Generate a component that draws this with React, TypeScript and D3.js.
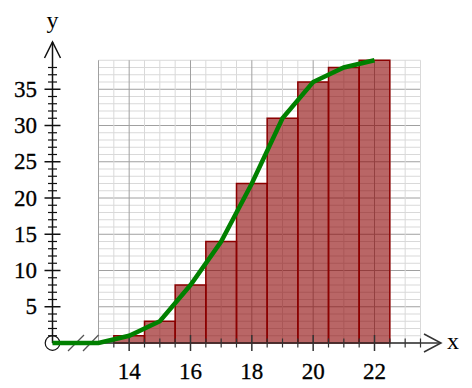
import React from "react";
import * as d3 from "d3";

const binCenters = [14, 15, 16, 17, 18, 19, 20, 21, 22];
const binCounts = [1, 3, 8, 14, 22, 31, 36, 38, 39];
const lineX = [11.5, 13, 14, 15, 16, 17, 18, 19, 20, 21, 22];
const lineY = [0, 0, 1, 3, 8, 14, 22, 31, 36, 38, 39];
const xTickLabels = [14, 16, 18, 20, 22];
const yTickLabels = [5, 10, 15, 20, 25, 30, 35];

const W = 472;
const H = 388;

export default function App() {
  const x = d3.scaleLinear().domain([13, 23.5]).range([98.5, 420.5]);
  const y = d3.scaleLinear().domain([0, 39]).range([343, 60.25]);
  const x0 = x(11.5);
  const y0 = y(0);
  const gridTop = y(39);
  const gridLeft = x(13);
  const gridRight = x(23.5);

  const vLines = d3.range(13, 23.51, 0.5);
  const hLines = d3.range(0, 39.01, 1);
  const xTicks = d3.range(13.5, 23.51, 0.5);
  const yTicks = d3.range(1, 38.01, 1);

  const line = d3
    .line<number>()
    .x((_, i) => x(lineX[i]))
    .y((d) => y(d));

  const fontStyle = { fontFamily: '"Liberation Serif", "Times New Roman", serif' };
  const axisColor = "#333";

  return (
    <svg
      width={W}
      height={H}
      style={{ position: "absolute", left: 0, top: 0, background: "#fff" }}
    >
      {/* grid */}
      <g>
        {hLines.map((v) => (
          <line
            key={"h" + v}
            x1={gridLeft}
            x2={gridRight}
            y1={y(v)}
            y2={y(v)}
            stroke={v % 5 === 0 ? "#a0a0a0" : "#d9d9d9"}
            strokeWidth={1}
          />
        ))}
        {vLines.map((v) => (
          <line
            key={"v" + v}
            x1={x(v)}
            x2={x(v)}
            y1={gridTop}
            y2={y0}
            stroke={v % 2 === 0 || v === 13 ? "#a0a0a0" : "#d9d9d9"}
            strokeWidth={1}
          />
        ))}
      </g>
      {/* bars */}
      <g>
        {binCenters.map((c, i) => (
          <rect
            key={"b" + c}
            x={x(c - 0.5)}
            y={y(binCounts[i])}
            width={x(c + 0.5) - x(c - 0.5)}
            height={y0 - y(binCounts[i])}
            fill="#8b0000"
            fillOpacity={0.6}
            stroke="#8b0000"
            strokeWidth={1.5}
          />
        ))}
      </g>
      {/* x axis */}
      <g stroke={axisColor} strokeWidth={1.5} fill="none">
        <line x1={x0} x2={441} y1={y0} y2={y0} />
        <polyline points={`424,334 441,${y0} 424,352`} />
        {xTicks.map((t) => {
          const major = t % 2 === 0;
          const len = major ? 8 : 4.5;
          return (
            <line
              key={"xt" + t}
              x1={x(t)}
              x2={x(t)}
              y1={y0 - len}
              y2={y0 + len}
              strokeWidth={major ? 1.5 : 1.2}
            />
          );
        })}
      </g>
      {/* y axis */}
      <g stroke="#111" strokeWidth={1.5} fill="none">
        <line x1={x0} x2={x0} y1={y0} y2={42} />
        <polyline points={`${x0 - 8},58 ${x0},42 ${x0 + 8},58`} />
        {yTicks.map((t) => {
          const major = t % 5 === 0;
          const len = major ? 8 : 4.5;
          return (
            <line
              key={"yt" + t}
              x1={x0 - len}
              x2={x0 + len}
              y1={y(t)}
              y2={y(t)}
              strokeWidth={major ? 1.5 : 1.2}
            />
          );
        })}
        <circle cx={x0} cy={y0} r={7.3} stroke="#111" strokeWidth={1.2} />
      </g>
      {/* axis break */}
      <g stroke="#555" strokeWidth={1.3}>
        <line x1={68} y1={351} x2={84} y2={335} />
        <line x1={83} y1={351} x2={98.5} y2={335} />
      </g>
      {/* cumulative line */}
      <path
        d={line(lineY) || ""}
        fill="none"
        stroke="#008000"
        strokeWidth={4.5}
        strokeLinejoin="miter"
      />
      {/* labels */}
      <g style={{ ...fontStyle, fontSize: "23px" }} fill="#000" stroke="#000" strokeWidth={0.3}>
        {xTickLabels.map((t) => (
          <text key={"xl" + t} x={x(t)} y={379} textAnchor="middle">
            {t}
          </text>
        ))}
        {yTickLabels.map((t) => (
          <text key={"yl" + t} x={37} y={y(t) + 7.5} textAnchor="end">
            {t}
          </text>
        ))}
      </g>
      <text x={x0} y={28} textAnchor="middle" style={{ ...fontStyle, fontSize: "24px" }}>
        y
      </text>
      <text x={447} y={349} style={{ ...fontStyle, fontSize: "24px" }}>
        x
      </text>
    </svg>
  );
}
